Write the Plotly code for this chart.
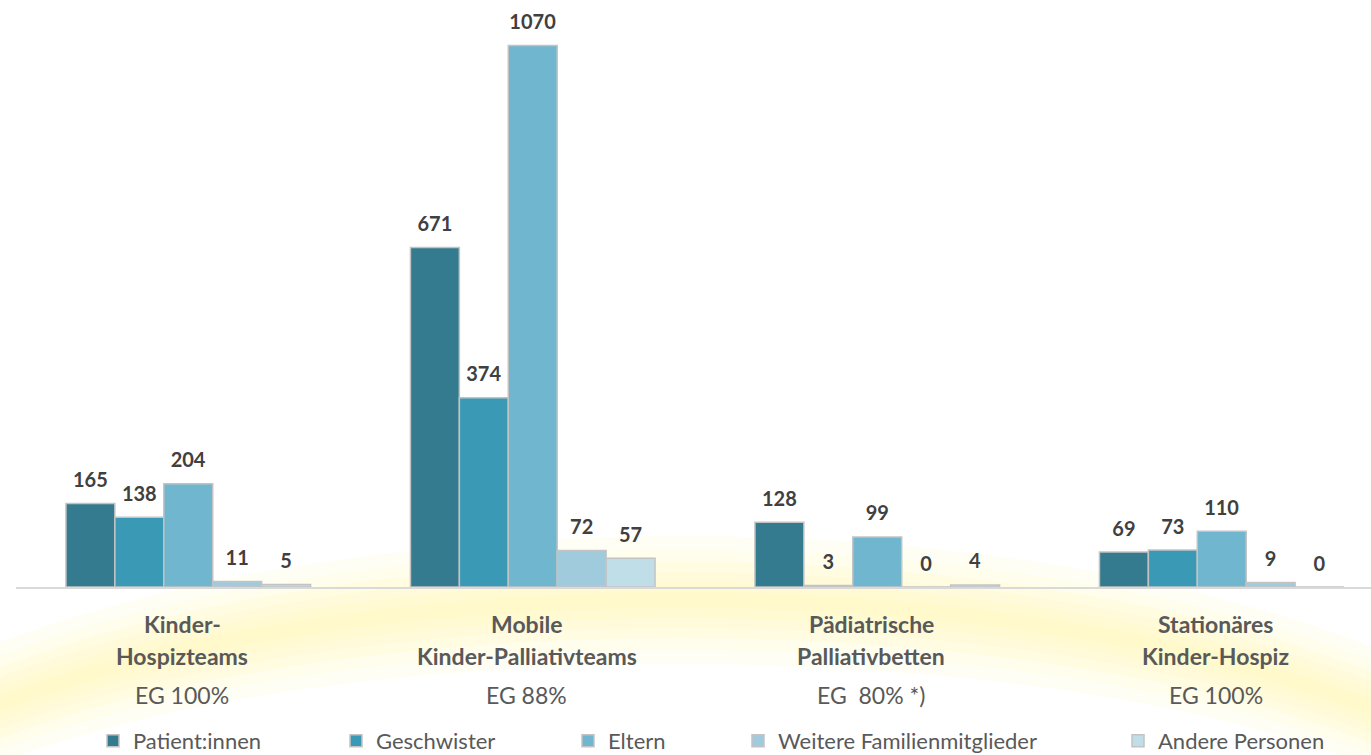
import math
import plotly.graph_objects as go

# ---------------- data ----------------
categories = ["Kinder-Hospizteams", "Mobile Kinder-Palliativteams",
              "Pädiatrische Palliativbetten", "Stationäres Kinder-Hospiz"]
label_line1 = ["Kinder-", "Mobile", "Pädiatrische", "Stationäres"]
label_line2 = ["Hospizteams", "Kinder-Palliativteams", "Palliativbetten", "Kinder-Hospiz"]
label_eg = ["EG 100%", "EG 88%", "EG \u00a080% *)", "EG 100%"]

series_names = ["Patient:innen", "Geschwister", "Eltern",
                "Weitere Familienmitglieder", "Andere Personen"]
patientinnen = [165, 671, 128, 69]
geschwister = [138, 374, 3, 73]
eltern = [204, 1070, 99, 110]
weitere = [11, 72, 0, 9]
andere = [5, 57, 4, 0]
series_values = [patientinnen, geschwister, eltern, weitere, andere]

colors = ["#357B8F", "#3A9AB6", "#6FB6CE", "#A0CBDC", "#C0DEE8"]

# ---------------- geometry ----------------
W, H = 1371, 755
ML, MR, MT, MB = 16, 0, 0, 168
PW, PH = W - ML - MR, H - MT - MB
YMAX = 1160
Y_SCALE = PH / YMAX
LABEL_LIFT = 9.5  # px the value labels sit higher than plotly's default

FONT = "Lato"


def paper_xy(px, py):
    return (px - ML) / PW, (H - MB - py) / PH


fig = go.Figure()

for j, (name, vals, col) in enumerate(zip(series_names, series_values, colors)):
    fig.add_trace(go.Bar(
        x=categories, y=vals, name=name,
        marker=dict(color=col, line=dict(color="#c3c3c3", width=1.5)),
        legend="legend" if j == 0 else f"legend{j + 1}",
        hoverinfo="skip",
    ))
for j, vals in enumerate(series_values):
    fig.add_trace(go.Bar(
        x=categories, y=vals, yaxis="y2", showlegend=False,
        marker=dict(color="rgba(0,0,0,0)", line=dict(width=0)),
        text=vals, texttemplate="<b>%{text}</b>", textposition="outside",
        textfont=dict(family=FONT, size=20, color="#404040"),
        constraintext="none", cliponaxis=False, hoverinfo="skip",
    ))

# ---------------- background glow (soft yellow arc) ----------------
cx, cy, a, b = 680, 900, 900, 300


def ellipse_path(ax, by, n=140):
    pts = []
    for k in range(n):
        t = 2 * math.pi * k / n
        px = cx + ax * math.cos(t)
        py = cy + by * math.sin(t)
        X, Y = paper_xy(px, py)
        pts.append(f"{X:.5f},{Y:.5f}")
    return "M" + " L".join(pts) + " Z"


shapes = []
for w in [8, 18, 28, 38, 50, 64]:
    path = ellipse_path(a + w, b + w) + " " + ellipse_path(a - w, b - w)
    shapes.append(dict(type="path", path=path, xref="paper", yref="paper",
                       fillcolor="rgb(255,242,110)", opacity=0.07,
                       line=dict(width=0), layer="below", fillrule="evenodd"))

# ---------------- category labels ----------------
annotations = []
line_specs = [(label_line1, 623.5, True), (label_line2, 656, True), (label_eg, 695, False)]
for texts, py, bold in line_specs:
    for cat, txt in zip(categories, texts):
        annotations.append(dict(
            x=cat, xref="x", y=paper_xy(0, py)[1], yref="paper",
            text=f"<b>{txt}</b>" if bold else txt, showarrow=False,
            xshift=-6, yanchor="middle", xanchor="center",
            font=dict(family=FONT, size=23, color="#595959"),
        ))

# ---------------- legends ----------------
legend_sq_px = [107, 350, 582, 752, 1132]
legends = {}
for j, sq in enumerate(legend_sq_px):
    key = "legend" if j == 0 else f"legend{j + 1}"
    legends[key] = dict(
        x=(sq - 14) / W, xref="container", xanchor="left",
        y=1 - 741 / H, yref="container", yanchor="middle",
        orientation="h", bgcolor="rgba(0,0,0,0)", borderwidth=0,
        font=dict(family=FONT, size=22, color="#595959"),
    )

fig.update_layout(
    width=W, height=H,
    margin=dict(l=ML, r=MR, t=MT, b=MB, autoexpand=False),
    paper_bgcolor="white", plot_bgcolor="rgba(0,0,0,0)",
    barmode="group", bargap=0.29, bargroupgap=0,
    xaxis=dict(range=[-0.5, -0.5 + PW / 344.5], showticklabels=False, ticks="",
               showgrid=False, zeroline=False, showline=True,
               linecolor="#d9d9d9", linewidth=2, fixedrange=True),
    yaxis=dict(range=[0, YMAX], visible=False, showgrid=False, zeroline=False),
    yaxis2=dict(range=[-LABEL_LIFT / Y_SCALE, YMAX - LABEL_LIFT / Y_SCALE],
                overlaying="y", visible=False, showgrid=False, zeroline=False),
    shapes=shapes, annotations=annotations,
    font=dict(family=FONT),
    **legends,
)

fig.write_html(
    "out.html",
    config={"displayModeBar": False},
    post_script="document.body.style.margin='0';document.body.style.overflow='hidden';",
)
